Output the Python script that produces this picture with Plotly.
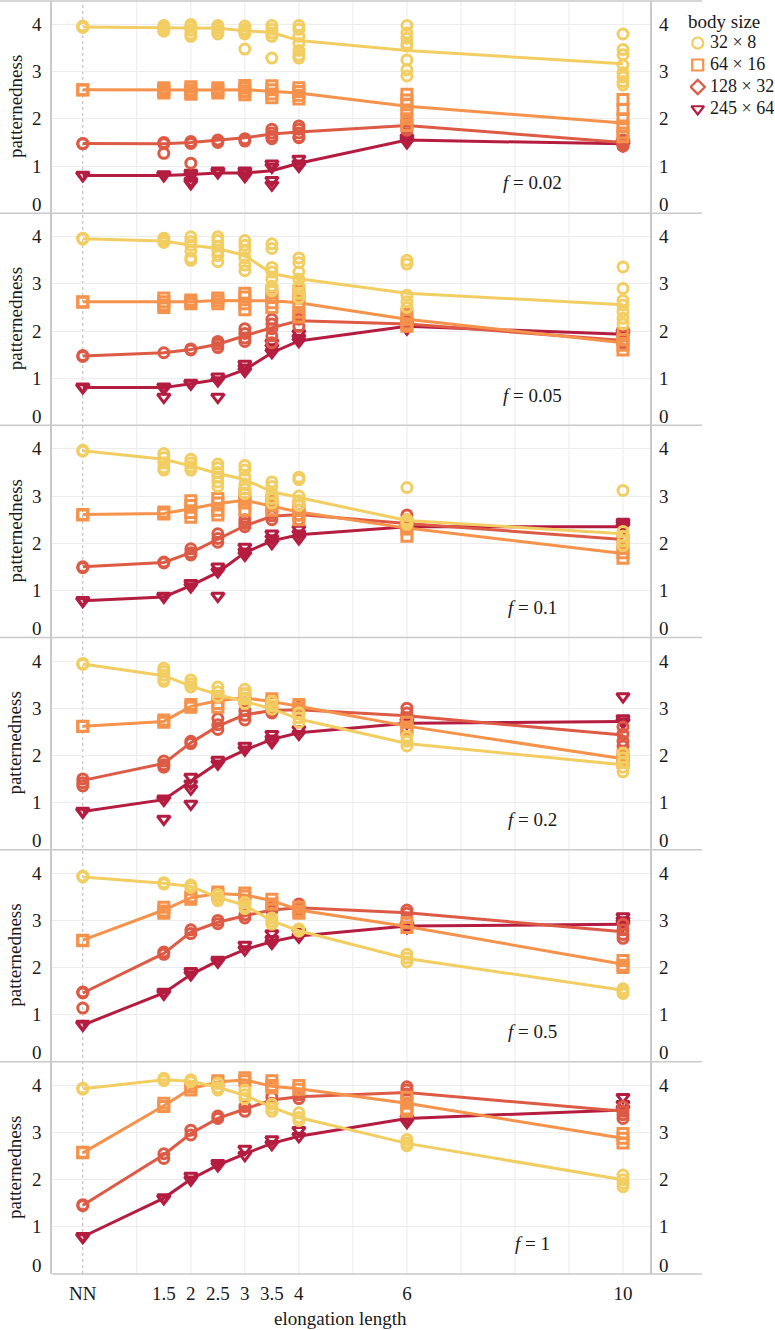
import plotly.graph_objects as go
from plotly.subplots import make_subplots

# ---------------- data ----------------
x_vals = [0, 1.5, 2, 2.5, 3, 3.5, 4, 6, 10]
x_ticktext = ["NN", "1.5", "2", "2.5", "3", "3.5", "4", "6", "10"]
f_labels = ["0.02", "0.05", "0.1", "0.2", "0.5", "1"]
size_names = ["32 × 8", "64 × 16", "128 × 32", "245 × 64"]
y_ticks = [0, 1, 2, 3, 4]

# means per panel: [32x8, 64x16, 128x32, 245x64]
means_f002 = [
    [3.95, 3.93, 3.92, 3.92, 3.87, 3.83, 3.66, 3.45, 3.17],
    [2.62, 2.61, 2.61, 2.61, 2.62, 2.59, 2.55, 2.27, 1.91],
    [1.48, 1.47, 1.50, 1.55, 1.60, 1.68, 1.72, 1.86, 1.50],
    [0.80, 0.80, 0.82, 0.85, 0.85, 0.90, 1.06, 1.55, 1.47],
]
means_f005 = [
    [3.96, 3.91, 3.82, 3.75, 3.60, 3.22, 3.11, 2.80, 2.56],
    [2.62, 2.62, 2.62, 2.65, 2.65, 2.64, 2.60, 2.25, 1.75],
    [1.47, 1.54, 1.61, 1.72, 1.90, 2.07, 2.22, 2.15, 1.80],
    [0.80, 0.80, 0.88, 0.97, 1.18, 1.54, 1.79, 2.10, 1.93],
]
means_f01 = [
    [3.96, 3.78, 3.64, 3.48, 3.35, 3.09, 2.97, 2.48, 2.20],
    [2.61, 2.63, 2.73, 2.84, 2.91, 2.78, 2.66, 2.32, 1.78],
    [1.50, 1.59, 1.80, 2.09, 2.37, 2.57, 2.61, 2.42, 2.08],
    [0.78, 0.86, 1.10, 1.38, 1.80, 2.05, 2.18, 2.35, 2.35],
]
means_f02 = [
    [3.94, 3.69, 3.47, 3.29, 3.14, 2.99, 2.77, 2.25, 1.80],
    [2.62, 2.72, 3.04, 3.16, 3.22, 3.14, 3.04, 2.62, 1.93],
    [1.47, 1.83, 2.27, 2.62, 2.86, 2.95, 2.97, 2.84, 2.43],
    [0.81, 1.06, 1.45, 1.84, 2.11, 2.34, 2.48, 2.68, 2.72],
]
means_f05 = [
    [3.92, 3.79, 3.72, 3.49, 3.32, 2.99, 2.78, 2.19, 1.52],
    [2.58, 3.22, 3.48, 3.57, 3.54, 3.42, 3.22, 2.87, 2.07],
    [1.46, 2.30, 2.75, 2.96, 3.10, 3.22, 3.27, 3.16, 2.76],
    [0.78, 1.46, 1.85, 2.14, 2.38, 2.55, 2.67, 2.88, 2.92],
]
means_f1 = [
    [3.93, 4.12, 4.09, 3.96, 3.79, 3.54, 3.32, 2.77, 2.00],
    [2.57, 3.57, 3.93, 4.07, 4.12, 3.98, 3.93, 3.62, 2.88],
    [1.46, 2.53, 2.98, 3.30, 3.50, 3.69, 3.76, 3.85, 3.45],
    [0.79, 1.61, 2.01, 2.31, 2.55, 2.77, 2.92, 3.30, 3.48],
]

# individual runs per panel, per body size, per elongation length
reps_f002 = [
    [[3.97, 3.95, 3.94], [3.98, 3.95, 3.9, 3.86], [4.0, 3.95, 3.88, 3.8, 3.75], [3.98, 3.92, 3.86, 3.8],
     [3.97, 3.9, 3.85, 3.8, 3.48], [3.98, 3.9, 3.82, 3.75, 3.29], [3.98, 3.9, 3.75, 3.6, 3.45, 3.35, 3.29],
     [3.98, 3.82, 3.71, 3.6, 3.54, 3.25, 3.04, 2.91], [3.8, 3.47, 3.36, 3.14, 2.98, 2.89, 2.79, 2.72]],
    [[2.62, 2.61], [2.66, 2.62, 2.58, 2.55], [2.68, 2.62, 2.56, 2.52], [2.66, 2.6, 2.55],
     [2.71, 2.65, 2.58, 2.51], [2.7, 2.62, 2.53, 2.45], [2.66, 2.58, 2.5, 2.42],
     [2.52, 2.4, 2.3, 2.15, 2.0, 1.86], [2.41, 2.2, 2.0, 1.85, 1.7, 1.62]],
    [[1.48, 1.47], [1.5, 1.47, 1.27], [1.52, 1.48, 1.06], [1.55, 1.5], [1.58, 1.53],
     [1.78, 1.7, 1.63, 1.58], [1.85, 1.78, 1.7, 1.62, 1.6], [1.95, 1.88, 1.82, 1.76], [1.55, 1.5, 1.45, 1.42]],
    [[0.81, 0.8], [0.82, 0.8], [0.85, 0.8, 0.68, 0.63], [0.9, 0.86], [0.9, 0.85, 0.78],
     [1.05, 0.98, 0.7, 0.6], [1.15, 1.05, 1.0], [1.6, 1.55, 1.5], [1.5, 1.47, 1.44]],
]
reps_f005 = [
    [[3.97, 3.95], [3.97, 3.92, 3.88], [4.0, 3.9, 3.82, 3.7, 3.55, 3.5], [4.0, 3.92, 3.8, 3.7, 3.6, 3.47],
     [3.92, 3.82, 3.7, 3.55, 3.4, 3.28], [3.85, 3.75, 3.35, 3.25, 3.1, 2.95, 2.85],
     [3.55, 3.45, 3.25, 3.1, 2.95, 2.8, 2.7], [3.5, 3.42, 2.76, 2.62, 2.5],
     [3.36, 2.9, 2.65, 2.55, 2.41, 2.27, 2.15]],
    [[2.62, 2.61], [2.7, 2.62, 2.55, 2.5], [2.66, 2.62, 2.58], [2.7, 2.64, 2.58], [2.8, 2.72, 2.58, 2.45],
     [2.85, 2.72, 2.6, 2.5], [2.85, 2.7, 2.55, 2.4, 2.3], [2.35, 2.25, 2.15, 2.1], [1.95, 1.82, 1.7, 1.6]],
    [[1.48, 1.46], [1.54], [1.62, 1.6], [1.78, 1.72, 1.65], [2.05, 1.95, 1.85, 1.78],
     [2.25, 2.15, 2.05, 1.9, 1.75], [2.35, 2.25, 2.1], [2.2, 2.15, 2.1], [1.9, 1.8, 1.75]],
    [[0.82, 0.8], [0.82, 0.78, 0.6], [0.9, 0.88], [1.03, 0.95, 0.6], [1.3, 1.22, 1.15],
     [1.75, 1.65, 1.55], [1.95, 1.85, 1.78], [2.12, 2.05], [1.97, 1.92]],
]
reps_f01 = [
    [[3.97, 3.95], [3.9, 3.82, 3.7, 3.6, 3.55], [3.78, 3.7, 3.62, 3.55], [3.68, 3.6, 3.5, 3.4, 3.3, 3.2],
     [3.65, 3.55, 3.4, 3.25, 3.15, 3.05], [3.3, 3.2, 3.05, 2.95, 2.85], [3.4, 3.35, 3.0, 2.9, 2.8],
     [3.18, 2.5, 2.45, 2.4], [3.12, 2.25, 2.15, 2.05, 1.95]],
    [[2.61, 2.6], [2.66, 2.62], [2.9, 2.8, 2.65, 2.55], [2.95, 2.85, 2.7, 2.6], [3.05, 2.95, 2.85, 2.7],
     [2.9, 2.8, 2.7], [2.8, 2.7, 2.6, 2.5], [2.4, 2.3, 2.15], [1.9, 1.8, 1.68]],
    [[1.5, 1.48], [1.6, 1.58], [1.88, 1.8, 1.75], [2.2, 2.1, 2.02], [2.5, 2.42, 2.35],
     [2.65, 2.58, 2.5], [2.7, 2.6, 2.5], [2.6, 2.5, 2.4], [2.15, 2.1, 2.05]],
    [[0.79, 0.77], [0.88, 0.86], [1.15, 1.08], [1.5, 1.4, 0.88], [1.92, 1.82, 1.75],
     [2.2, 2.1, 2.0], [2.3, 2.2, 2.1], [2.4, 2.33], [2.45, 2.4, 2.35]],
]
reps_f02 = [
    [[3.95, 3.93], [3.85, 3.78, 3.7, 3.62, 3.57], [3.6, 3.52, 3.45], [3.45, 3.35, 3.25], [3.4, 3.3, 3.2, 3.1],
     [3.15, 3.05, 2.98], [2.9, 2.8, 2.7], [2.4, 2.3, 2.2], [2.05, 1.95, 1.85, 1.75, 1.65]],
    [[2.62, 2.61], [2.75, 2.7], [3.08, 3.02], [3.25, 3.1, 3.02], [3.3, 3.2], [3.2, 3.12], [3.08, 3.0],
     [2.7, 2.6, 2.55], [2.0, 1.9, 1.85]],
    [[1.5, 1.42, 1.35], [1.88, 1.8, 1.75], [2.3, 2.25], [2.78, 2.65, 2.55], [2.95, 2.85, 2.75],
     [3.0, 2.95, 2.9], [3.02, 2.95], [3.0, 2.9, 2.8], [2.6, 2.45, 2.3, 2.2]],
    [[0.82, 0.8], [1.08, 1.05, 0.65], [1.54, 1.4, 1.29, 0.97], [1.9, 1.82], [2.2, 2.12],
     [2.45, 2.35, 2.28], [2.55, 2.45], [2.72, 2.68], [3.25, 2.78, 2.72, 2.7]],
]
reps_f05 = [
    [[3.94, 3.92], [3.8, 3.77], [3.75, 3.7], [3.55, 3.48, 3.42], [3.38, 3.3, 3.25], [3.05, 2.98, 2.92],
     [2.82, 2.77], [2.28, 2.2, 2.12], [1.55, 1.5, 1.45]],
    [[2.58, 2.57], [3.28, 3.2, 3.15], [3.5, 3.45], [3.6, 3.55], [3.58, 3.52], [3.45, 3.35],
     [3.28, 3.2, 3.15], [2.95, 2.85], [2.15, 2.05, 2.0]],
    [[1.48, 1.46, 1.14], [2.33, 2.28], [2.8, 2.72], [3.0, 2.93], [3.12, 3.05], [3.28, 3.2],
     [3.35, 3.28, 3.22], [3.22, 3.15], [2.92, 2.8, 2.7, 2.62]],
    [[0.8, 0.78], [1.48, 1.44], [1.92, 1.85], [2.16, 2.12], [2.48, 2.38], [2.72, 2.6, 2.52],
     [2.75, 2.65], [2.9, 2.85], [3.08, 3.0, 2.95, 2.9]],
]
reps_f1 = [
    [[3.94, 3.92], [4.15, 4.1], [4.12, 4.08], [4.05, 3.95, 3.9], [3.9, 3.8, 3.72], [3.6, 3.52, 3.45],
     [3.42, 3.32, 3.25], [2.85, 2.78, 2.72], [2.1, 2.0, 1.92, 1.85]],
    [[2.58, 2.57], [3.62, 3.55], [3.97, 3.9], [4.1, 4.05], [4.16, 4.1], [4.1, 4.0, 3.95], [4.0, 3.92],
     [3.75, 3.62, 3.5, 3.45], [2.98, 2.88, 2.78]],
    [[1.47, 1.45], [2.55, 2.45], [3.05, 2.95], [3.35, 3.3], [3.55, 3.45], [3.75, 3.62], [3.8, 3.72],
     [3.97, 3.9, 3.82, 3.75], [3.55, 3.45, 3.38, 3.3]],
    [[0.8, 0.78], [1.62, 1.6], [2.08, 2.0], [2.35, 2.3], [2.65, 2.52], [2.85, 2.75], [3.05, 2.92],
     [3.3, 3.22], [3.75, 3.6, 3.5]],
]

panel_means = [means_f002, means_f005, means_f01, means_f02, means_f05, means_f1]
panel_reps = [reps_f002, reps_f005, reps_f01, reps_f02, reps_f05, reps_f1]

# ---------------- style ----------------
colors = ["#F2CE62", "#F5924B", "#DD5A45", "#B41C40"]
data_symbols = ["circle-open", "square-open", "circle-open", "triangle-down-open"]
legend_symbols = ["circle-open", "square-open", "diamond-open", "triangle-down-open"]
FONT = "Liberation Serif, Times New Roman, serif"
TXT = "#1a1a1a"
GRID = "#ececec"
FRAME = "#c9c9c9"
FS = 19

W, H = 775, 1330
ML, MR, MT, MB = 52, 0, 1, 56
PANEL_RIGHT = 650          # pixel x of the right frame of the panels
X_RANGE = [-0.57, 10.5]
Y_RANGE = [0, 4.5]
NP = 6

area_w = W - ML - MR
area_h = H - MT - MB
DX = (PANEL_RIGHT - ML) / area_w


def px(xp):
    return (xp - ML) / area_w


def py(yp):
    return 1 - (yp - MT) / area_h


fig = make_subplots(rows=NP, cols=1, shared_xaxes=True, vertical_spacing=0)

for p in range(NP):
    row = p + 1
    for s in [3, 2, 1, 0]:
        xs, ys = [], []
        for xv, vals in zip(x_vals, panel_reps[p][s]):
            for v in vals:
                xs.append(xv)
                ys.append(v)
        fig.add_trace(go.Scatter(
            x=xs, y=ys, mode="markers", showlegend=False, hoverinfo="skip",
            marker=dict(symbol=data_symbols[s], size=10 if s != 3 else 11, color=colors[s],
                        line=dict(width=3, color=colors[s]))), row=row, col=1)
        fig.add_trace(go.Scatter(
            x=x_vals, y=panel_means[p][s], mode="lines", showlegend=False, hoverinfo="skip",
            line=dict(color=colors[s], width=3)), row=row, col=1)

# key ("body size") drawn on its own small axis pair
fig.add_trace(go.Scatter(
    x=[0] * len(size_names), y=list(range(len(size_names))), mode="markers+text",
    text=[" " + n for n in size_names], textposition="middle right", showlegend=False,
    hoverinfo="skip", textfont=dict(family=FONT, size=18, color=TXT),
    marker=dict(symbol=legend_symbols, size=11, color=colors,
                line=dict(width=2.2, color=colors)),
    xaxis="x7", yaxis="y7"))

annotations = []
shapes = []
for p in range(NP):
    row = p + 1
    xa = "x" if row == 1 else f"x{row}"
    ya = "y" if row == 1 else f"y{row}"
    fig.update_xaxes(row=row, col=1, domain=[0, DX], range=X_RANGE, showgrid=False, zeroline=False,
                     showline=False, ticks="", tickvals=x_vals, ticktext=x_ticktext,
                     showticklabels=(row == NP), ticklabelstandoff=6,
                     tickfont=dict(family=FONT, size=FS, color=TXT))
    fig.update_yaxes(row=row, col=1, range=Y_RANGE, tickvals=[1, 2, 3, 4], showticklabels=False,
                     showgrid=True, gridcolor=GRID, gridwidth=1, zeroline=False,
                     showline=True, linecolor=FRAME, linewidth=1.5, mirror=True, ticks="")
    for t in y_ticks:
        ysh = 9 if t == 0 else 0
        annotations.append(dict(x=px(44), xref="paper", y=t, yref=ya, yshift=ysh,
                                text=str(t), showarrow=False, xanchor="right", yanchor="middle",
                                font=dict(family=FONT, size=FS, color=TXT)))
        annotations.append(dict(x=px(657), xref="paper", y=t, yref=ya, yshift=ysh,
                                text=str(t), showarrow=False, xanchor="left", yanchor="middle",
                                font=dict(family=FONT, size=FS, color=TXT)))
    annotations.append(dict(x=px(15), xref="paper", y=0.5, yref=f"{ya} domain",
                            text="patternedness", textangle=-90, showarrow=False,
                            xanchor="center", yanchor="middle",
                            font=dict(family=FONT, size=FS, color=TXT)))
    annotations.append(dict(x=8.33, xref=xa, y=0.64, yref=ya,
                            text=f"<i>f</i> = {f_labels[p]}", showarrow=False,
                            xanchor="center", yanchor="middle",
                            font=dict(family=FONT, size=FS, color=TXT)))

annotations.append(dict(x=px(340), xref="paper", y=py(1318), yref="paper",
                        text="elongation length", showarrow=False,
                        xanchor="center", yanchor="middle",
                        font=dict(family=FONT, size=FS, color=TXT)))
annotations.append(dict(x=px(686), xref="paper", y=py(22), yref="paper",
                        text="body size", showarrow=False,
                        xanchor="left", yanchor="middle",
                        font=dict(family=FONT, size=FS, color=TXT)))

for gx in range(1, 11):
    shapes.append(dict(type="line", xref="x", yref="paper", x0=gx, x1=gx, y0=0, y1=1,
                       line=dict(color=GRID, width=1), layer="below"))
shapes.append(dict(type="line", xref="x", yref="paper", x0=0, x1=0, y0=0, y1=1,
                   line=dict(color="#b5b5b5", width=1, dash="dot"), layer="below"))
for k in range(NP + 1):
    x0 = px(0) if k > 0 else 0
    shapes.append(dict(type="line", xref="paper", yref="paper", x0=x0, x1=px(702),
                       y0=k / NP, y1=k / NP, line=dict(color=FRAME, width=1.5), layer="above"))

# key axes: rows 22 px apart, first row centred at y = 43 px
KEY_TOP, KEY_ROW = 32, 22
fig.update_layout(
    xaxis7=dict(domain=[px(690), 1], range=[-0.1, 1], visible=False, fixedrange=True),
    yaxis7=dict(domain=[py(KEY_TOP + KEY_ROW * len(size_names)), py(KEY_TOP)],
                range=[len(size_names) - 0.5, -0.5], visible=False, fixedrange=True,
                anchor="x7"),
)
fig.layout.xaxis7.anchor = "y7"

fig.update_layout(
    width=W, height=H, margin=dict(l=ML, r=MR, t=MT, b=MB, autoexpand=False),
    plot_bgcolor="white", paper_bgcolor="white",
    font=dict(family=FONT, size=FS, color=TXT),
    annotations=annotations, shapes=shapes,
    showlegend=False,
)

fig.write_html("out.html", config={"displayModeBar": False},
               post_script="document.body.style.margin='0px';")
